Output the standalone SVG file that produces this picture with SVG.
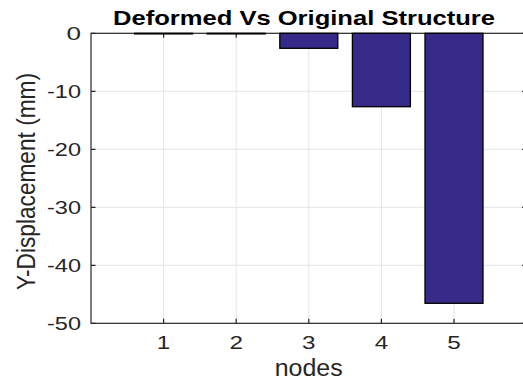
<svg xmlns="http://www.w3.org/2000/svg" width="523" height="381" viewBox="0 0 523 381">
<style>
.grid{stroke:#e4e4e4;stroke-width:1;fill:none}
.axis{stroke:#262626;stroke-width:1.2;fill:none}
.bar{fill:#352a87;stroke:#000;stroke-width:1.3}
.tick{font-family:"Liberation Sans",Arial,sans-serif;font-size:18.5px;fill:#262626}
.ytick{text-anchor:end}
.xtick{text-anchor:middle}
.title{font-family:"Liberation Sans",Arial,sans-serif;font-size:20.5px;font-weight:bold;fill:#000}
.label{font-family:"Liberation Sans",Arial,sans-serif;font-size:23.5px;fill:#262626;text-anchor:middle}
</style>
<rect width="523" height="381" fill="#fff"/>
<g id="grid" class="grid">
<path d="M163.6 33.3V323.3M236.2 33.3V323.3M308.8 33.3V323.3M381.4 33.3V323.3M454 33.3V323.3"/>
<path d="M91 91.3H526.6M91 149.3H526.6M91 207.3H526.6M91 265.3H526.6"/>
</g>
<g id="axes" class="axis">
<rect x="91" y="33.3" width="435.6" height="290"/>
<path d="M163.6 323.3v-4.5M236.2 323.3v-4.5M308.8 323.3v-4.5M381.4 323.3v-4.5M454 323.3v-4.5"/>
<path d="M163.6 33.3v4.5M236.2 33.3v4.5M308.8 33.3v4.5M381.4 33.3v4.5M454 33.3v4.5"/>
<path d="M91 33.3h4.5M91 91.3h4.5M91 149.3h4.5M91 207.3h4.5M91 265.3h4.5M91 323.3h4.5"/>
<path d="M526.6 33.3h-4.5M526.6 91.3h-4.5M526.6 149.3h-4.5M526.6 207.3h-4.5M526.6 265.3h-4.5M526.6 323.3h-4.5"/>
</g>
<g id="bars">
<rect id="bar1" class="bar" x="134.6" y="33.3" width="58" height="0.6"/>
<rect id="bar2" class="bar" x="207.2" y="33.3" width="58" height="0.6"/>
<rect id="bar3" class="bar" x="279.8" y="33.3" width="58" height="15"/>
<rect id="bar4" class="bar" x="352.4" y="33.3" width="58" height="73.4"/>
<rect id="bar5" class="bar" x="425" y="33.3" width="58" height="270"/>
</g>
<g id="yticklabels" class="tick ytick">
<text x="81" y="39.6" textLength="14.5" lengthAdjust="spacingAndGlyphs">0</text>
<text x="81" y="97.6" textLength="34" lengthAdjust="spacingAndGlyphs">-10</text>
<text x="81" y="155.6" textLength="34" lengthAdjust="spacingAndGlyphs">-20</text>
<text x="81" y="213.6" textLength="34" lengthAdjust="spacingAndGlyphs">-30</text>
<text x="81" y="271.6" textLength="34" lengthAdjust="spacingAndGlyphs">-40</text>
<text x="81" y="329.6" textLength="34" lengthAdjust="spacingAndGlyphs">-50</text>
</g>
<g id="xticklabels" class="tick xtick">
<text x="163.6" y="349" textLength="13.5" lengthAdjust="spacingAndGlyphs">1</text>
<text x="236.2" y="349" textLength="13.5" lengthAdjust="spacingAndGlyphs">2</text>
<text x="308.8" y="349" textLength="13.5" lengthAdjust="spacingAndGlyphs">3</text>
<text x="381.4" y="349" textLength="13.5" lengthAdjust="spacingAndGlyphs">4</text>
<text x="454" y="349" textLength="13.5" lengthAdjust="spacingAndGlyphs">5</text>
</g>
<text id="title" class="title" x="113" y="25" textLength="382" lengthAdjust="spacingAndGlyphs">Deformed Vs Original Structure</text>
<text id="xlabel" class="label" x="308.7" y="376" textLength="68" lengthAdjust="spacingAndGlyphs">nodes</text>
<text id="ylabel" class="label" transform="translate(35 181.5) rotate(-90)" x="0" y="0" style="font-size:25.5px" textLength="217" lengthAdjust="spacingAndGlyphs">Y-Displacement (mm)</text>
</svg>
